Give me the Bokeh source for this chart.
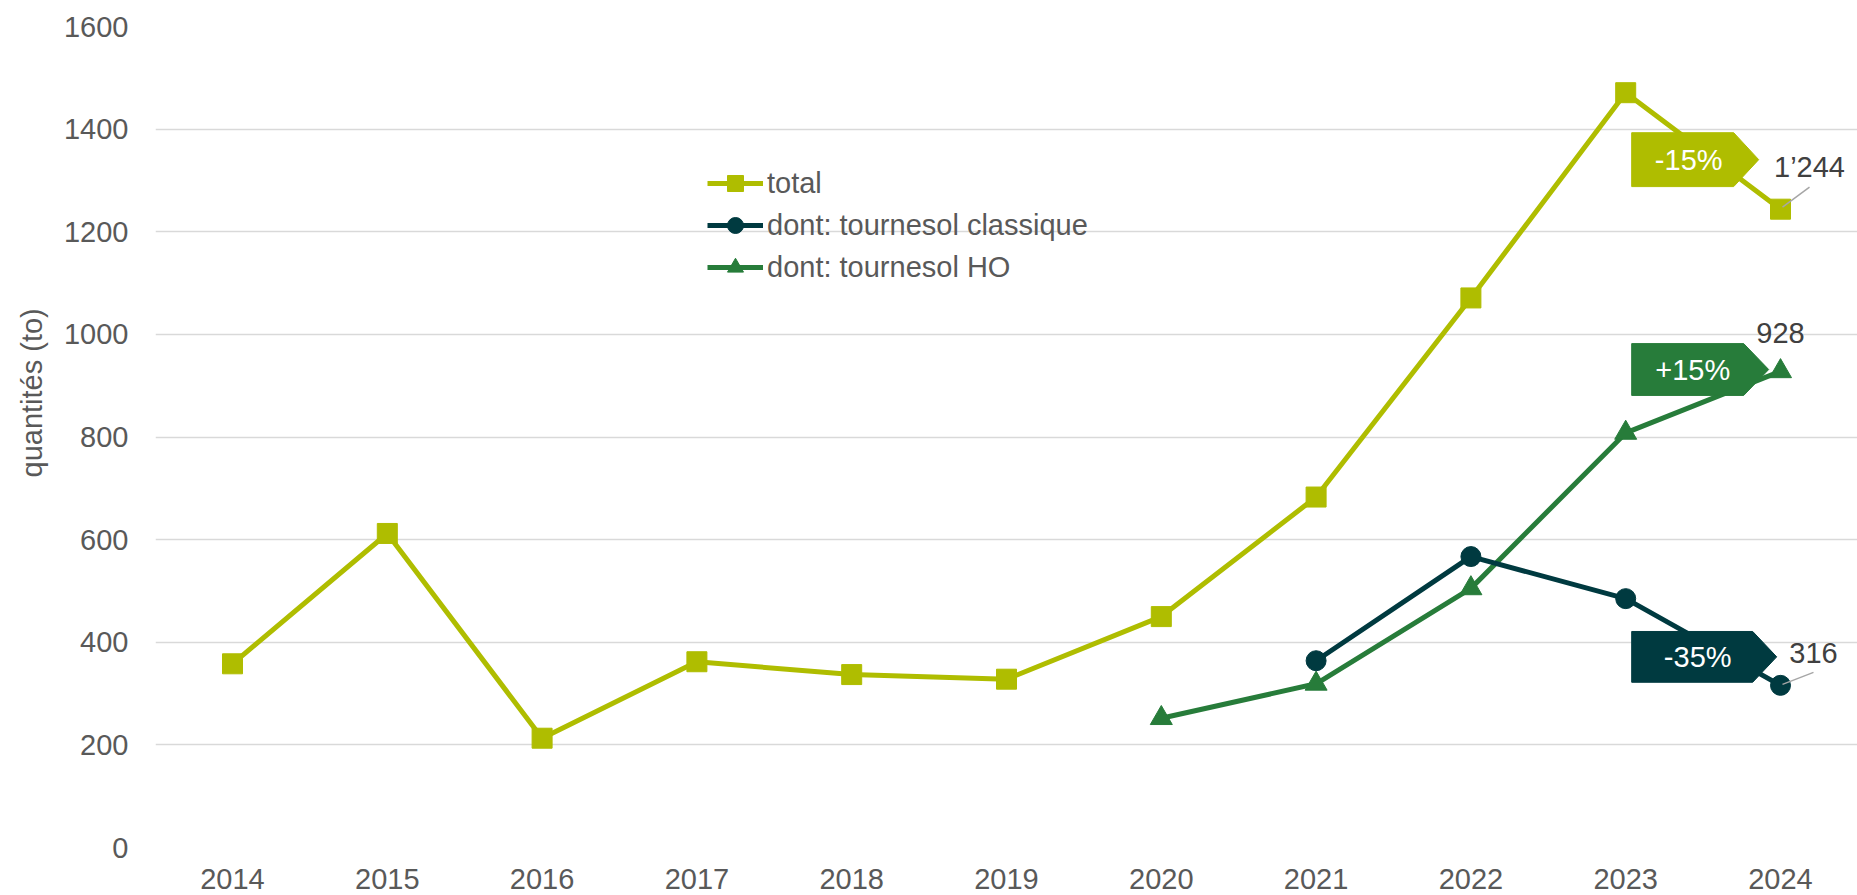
from bokeh.plotting import figure
from bokeh.models import FixedTicker, Legend, LegendItem, Label, Range1d, Title
from bokeh.embed import file_html
from bokeh.resources import INLINE

# ---------------- data ----------------
years = [2014, 2015, 2016, 2017, 2018, 2019, 2020, 2021, 2022, 2023, 2024]
total = [358, 612, 213, 362, 337, 328, 450, 683, 1071, 1471, 1244]
classique_years = [2021, 2022, 2023, 2024]
classique = [364, 567, 485, 316]
ho_years = [2020, 2021, 2022, 2023, 2024]
ho = [252, 319, 505, 808, 928]
y_ticks = [0, 200, 400, 600, 800, 1000, 1200, 1400, 1600]
series_names = ["total", "dont: tournesol classique", "dont: tournesol HO"]
y_title = "quantités (to)"

# ---------------- style ----------------
C_TOTAL = "#AFBD00"
C_CLASS = "#003A40"
C_HO = "#277C3A"
TICK_COLOR = "#595959"
LABEL_COLOR = "#404040"
FONT = "Liberation Sans"
FS = "29px"

W, H = 1857, 895
LEFT, TOP, BOTTOM = 155, 26, 48
FRAME_W = W - LEFT
FRAME_H = H - TOP - BOTTOM
PX = 154.8                       # pixels per year
X0 = years[0] - 77 / PX
X1 = X0 + FRAME_W / PX
PY = FRAME_H / 1600              # pixels per unit

p = figure(width=W, height=H, output_backend="svg", toolbar_location=None,
           x_range=Range1d(X0, X1), y_range=Range1d(0, 1600),
           min_border_left=LEFT, min_border_right=0, min_border_top=TOP,
           min_border_bottom=BOTTOM, background_fill_color="white",
           border_fill_color="white")
p.outline_line_color = None
p.xgrid.grid_line_color = None
p.ygrid.grid_line_color = "#D9D9D9"
p.ygrid.grid_line_width = 1.5

p.xaxis.ticker = FixedTicker(ticks=years)
p.yaxis.ticker = FixedTicker(ticks=y_ticks)
for ax in (p.xaxis, p.yaxis):
    ax.axis_line_color = None
    ax.major_tick_line_color = None
    ax.minor_tick_line_color = None
    ax.major_tick_out = 0
    ax.major_tick_in = 0
    ax.minor_tick_out = 0
    ax.major_label_text_font = FONT
    ax.major_label_text_font_size = FS
    ax.major_label_text_color = TICK_COLOR
p.xaxis.major_label_standoff = 21
p.yaxis.major_label_standoff = 27

# y-axis title (sits above the frame centre, as in the original)
p.add_layout(Title(text=y_title, align="left", vertical_align="middle",
                   offset=370, standoff=23, text_font=FONT, text_font_size=FS,
                   text_font_style="normal", text_color=TICK_COLOR), "left")

# ---------------- series ----------------
LW = 5
l1 = p.line(years, total, color=C_TOTAL, line_width=LW, line_join="round")
s1 = p.scatter(years, total, marker="square", size=20, color=C_TOTAL)
l3 = p.line(ho_years, ho, color=C_HO, line_width=LW, line_join="round")
s3 = p.scatter(ho_years, ho, marker="triangle", size=22, color=C_HO)
l2 = p.line(classique_years, classique, color=C_CLASS, line_width=LW, line_join="round")
s2 = p.scatter(classique_years, classique, marker="circle", size=20, color=C_CLASS)

# ---------------- change callouts ----------------
def pct(a, b):
    return f"{round((b / a - 1) * 100):+d}%"

callouts = [
    # series, colour, body right px, tip px, y top, y bottom, text x offset px
    (total, C_TOTAL, 108, 133, 1393, 1288, 63),
    (ho, C_HO, 118, 143, 982, 881, 67),
    (classique, C_CLASS, 127, 151, 421, 322, 72),
]
xa = years[-2]
for vals, col, body, tip, yt, yb, tx in callouts:
    xl = xa + 6 / PX
    xr = xa + body / PX
    xt = xa + tip / PX
    ym = (yt + yb) / 2
    p.patch([xl, xr, xt, xr, xl], [yt, yt, ym, yb, yb], fill_color=col,
            line_color=col, line_width=1)
    p.add_layout(Label(x=xa, y=ym, x_offset=tx, text=pct(vals[-2], vals[-1]),
                       text_align="center", text_baseline="middle",
                       text_color="white", text_font=FONT, text_font_size=FS))

# ---------------- last value labels ----------------
def fmt(v):
    return f"{v:,}".replace(",", "\u2019")

xe = years[-1]
value_labels = [
    # value, text dx, text dy, leader (x0, y0, x1, y1) px offsets or None
    (total[-1], 29, 42, (2, 2, 29, 22)),
    (ho[-1], 0, 38, None),
    (classique[-1], 33, 32, (2, 1, 33, 13)),
]
for v, dx, dy, lead in value_labels:
    p.add_layout(Label(x=xe, y=v, x_offset=dx, y_offset=dy, text=fmt(v),
                       text_align="center", text_baseline="middle",
                       text_color=LABEL_COLOR, text_font=FONT, text_font_size=FS))
    if lead:
        a, b, c, d = lead
        p.segment(x0=[xe + a / PX], y0=[v + b / PY], x1=[xe + c / PX],
                  y1=[v + d / PY], line_color="#A6A6A6", line_width=1.5)

# ---------------- legend ----------------
legend = Legend(items=[LegendItem(label=series_names[0], renderers=[l1, s1]),
                       LegendItem(label=series_names[1], renderers=[l2, s2]),
                       LegendItem(label=series_names[2], renderers=[l3, s3])],
                location=(552, 560), orientation="vertical",
                border_line_color=None, background_fill_alpha=0,
                padding=0, margin=0, spacing=2, glyph_width=56,
                glyph_height=40, label_height=40, label_standoff=4,
                label_text_font=FONT, label_text_font_size=FS,
                label_text_color=TICK_COLOR)
p.add_layout(legend)

open("out.html", "w").write(file_html(p, INLINE))
